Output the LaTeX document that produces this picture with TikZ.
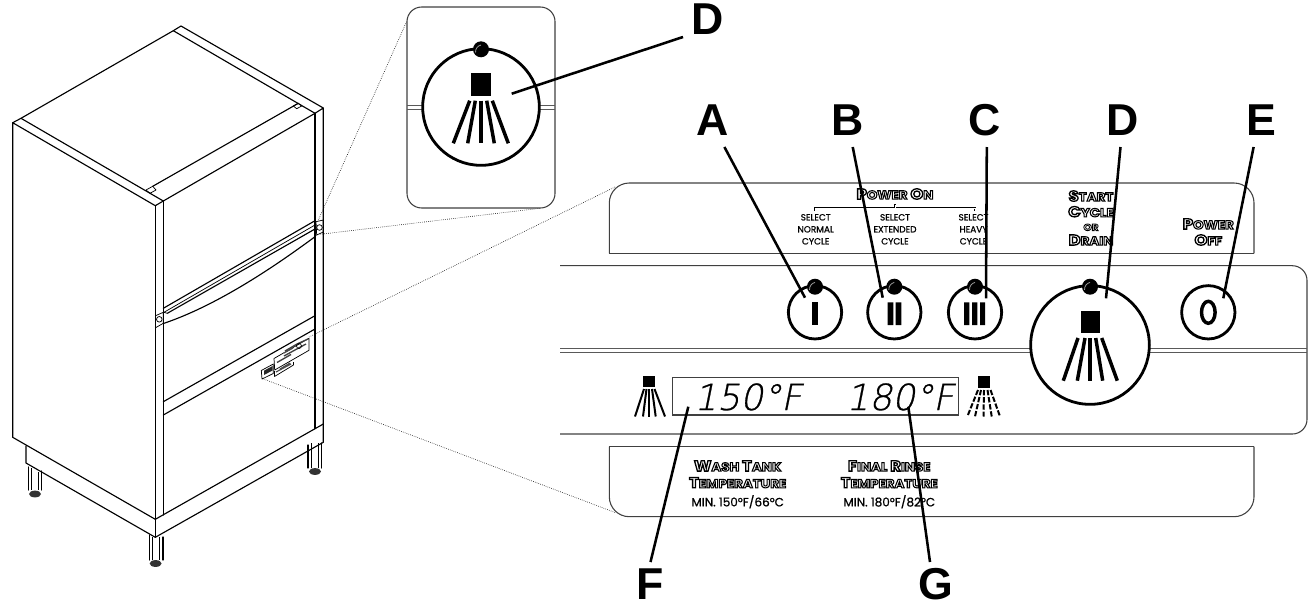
\documentclass[tikz,border=0pt]{standalone}
\usepackage{fontspec}
\setmainfont{Liberation Sans}
\newfontfamily\popp{Poppins}[FakeBold=1]
\newfontfamily\fancyf{Poppins}[BoldFeatures={FakeBold=9,FakeStretch=1.12}]
\newfontfamily\lcdf[FakeSlant=0.2,FakeBold=0.8]{DejaVu Sans ExtraLight}
\newcommand\fancytext[1]{{\fancyf\bfseries\color{white}\special{pdf:code 0 0 0 RG}#1}}
\newcommand\bigc{\fontsize{11}{11}\selectfont}
\newcommand\smallc{\fontsize{9}{9}\selectfont}
\tikzset{
  cab/.style={line width=0.85pt,line join=round,line cap=round},
  thin cab/.style={line width=0.55pt,line join=round},
  panel/.style={draw=black!75,line width=0.8pt},
  dots/.style={line width=0.45pt,densely dotted},
  leader/.style={line width=1.9pt},
  ring/.style={circle,draw=black,line width=2.1pt,fill=white,inner sep=0pt},
  led/.style={circle,fill=black,inner sep=0pt,minimum size=12pt},
  bar/.style={fill=black},
  jet/.style={line width=2.6pt},
  letter/.style={font=\fontsize{33.5}{33.5}\selectfont\bfseries,inner sep=0pt},
  small label/.style={font=\popp\fontsize{6.7}{9}\selectfont,align=center,inner sep=0pt,text depth=0pt},
  min label/.style={font=\popp\fontsize{9}{9}\selectfont,align=center,inner sep=0pt,text depth=0pt},
  fancy label/.style={align=center,inner sep=0pt},
  lcd/.style={font=\lcdf\fontsize{27}{27}\selectfont,inner sep=0pt,anchor=base west},
}
\begin{document}
\begin{tikzpicture}[x=0.75pt,y=-0.75pt]
\useasboundingbox (0,0) rectangle (1308,603);
% cabinet
\draw[cab] (181,26) -- (323.3,108) -- (323.3,424) -- (155.3,519.3) -- (12.7,437.3) -- (12.7,122.7) -- (155.3,205.7) -- (163.3,201) -- (315,113.3) -- (323.3,108);
\draw[cab] (12.7,122.7) -- (21,118.3) -- (173.3,30.7) -- (181,26);
\draw[cab] (21,118.3) -- (163.3,201);
\draw[cab] (173.3,30.7) -- (315,113.3);
\draw[cab] (152.7,186.3) -- (298.3,103.3);
\draw[thin cab] (146,190) -- (152.7,186.3) -- (156,190) -- (150,193.3) -- cycle;
\draw[thin cab] (293.3,106) -- (298.3,103.3) -- (301.7,106) -- (296.7,108.7) -- cycle;
\draw[cab] (155.3,205.7) -- (155.3,519.3);
\draw[cab] (163.3,201) -- (163.3,515);
\draw[cab] (315,113.3) -- (315,428.7);
% base
\draw[cab] (26,446) -- (26,463) -- (155.3,537.3) -- (323.3,442.3) -- (323.3,424);
\draw[cab] (155.3,519.3) -- (155.3,537.3);
% legs
\draw[cab] (28.3,467) -- (28.3,490) (41.7,471) -- (41.7,490);
\draw[thin cab] (31.5,468) -- (31.5,490) (38.5,472) -- (38.5,490);
\draw[cab] (149.3,535) -- (149.3,560) (163,537) -- (163,560);
\draw[thin cab] (152.5,537) -- (152.5,560) (159.5,537) -- (159.5,560);
\draw[cab] (308,445) -- (308,468) (321.7,443) -- (321.7,468);
\draw[thin cab] (311,443) -- (311,468) (318.5,443) -- (318.5,468);
\fill[black!80] (35,494) ellipse (6 and 3.4);
\fill[black!80] (155.6,563.5) ellipse (6 and 3.4);
\fill[black!80] (315,471.5) ellipse (6 and 3.4);
% door lines
\draw[cab] (163.3,401.7) -- (315,315.7);
\draw[cab] (163.3,415) -- (315,329);
% handle
\draw[cab] (163.3,308.3) -- (315,220.7);
\draw[thin cab] (164,312.3) -- (315,225);
\draw[cab] (167.3,313.3) -- (315,229);
\draw[cab] (164,323.3) .. controls (215,306) and (270,270) .. (315,236.7);
\draw[thin cab] (167.3,313.3) -- (164,312.3);
\draw[thin cab] (315,229) -- (316,236);
% hinges
\draw[thin cab] (316,221.7) -- (323.3,220) -- (323.3,232) -- (316.7,235) -- cycle;
\draw[thin cab] (319.5,227.5) circle (2.8);
\draw[thin cab] (155.6,315.7) -- (163.3,312.3) -- (163.3,323.3) -- (155.6,327.7) -- cycle;
\draw[thin cab] (159.3,319.3) circle (2.8);
% tiny panel
\draw[thin cab] (274,358.5) -- (309,338.3) -- (309,350.3) -- (274.7,370) -- cycle;
\draw[thin cab] (261.3,370.5) -- (273.3,364) -- (273.3,373.5) -- (262,379) -- cycle;
\draw[thin cab] (274.5,376.5) -- (293.5,365) -- (293.5,362) (274.5,376.5) -- (274.5,371);
\fill[black!85] (264,370.7) -- (272.5,366) -- (272.5,370.5) -- (264,375) -- cycle;
\draw[line width=1pt,black!75] (277,362.5) -- (291,354.5) (284,356) -- (306,344) (285,351) -- (297,344) (297,344) -- (308,339);
\draw[line width=0.9pt,black!70] (276,372) -- (291,364) (280,369) -- (290,363) (284,353) -- (293,348);
\draw[line width=0.5pt] (299,346) circle (2.5);
% dotted connectors
\coordinate (dA1) at (407.3,20);
\coordinate (dA2) at (318.3,220);
\coordinate (dB1) at (540,208.3);
\coordinate (dB2) at (320,234.3);
\coordinate (dC1) at (615,187);
\coordinate (dC2) at (309,337);
\coordinate (dD1) at (615,512.5);
\coordinate (dD2) at (261.7,378.3);
\draw[dots] (dA1) -- (dA2);
\draw[dots] (dB1) -- (dB2);
\draw[dots] (dC1) -- (dC2);
\draw[dots] (dD1) -- (dD2);
% inset
\draw[panel,fill=white,rounded corners=11pt] (407,7) rectangle (555,208);
\draw[line width=0.9pt,black!65] (407,105.7) -- (555,105.7) (407,109.3) -- (555,109.3);
\node[ring,minimum size=87.5pt] (insetring) at (481,107) {};
\node[led] (insetled) at (481,49.3) {};
\draw[line width=0.6pt,black!40] (475.5,52.5) .. controls (475.5,48.5) and (477.5,46) .. (481,45);
\fill (471,73.3) rectangle (490.7,95.7);
\foreach \t/\b in {469.7/453.3,475.3/467.7,481/481,486.7/494.3,492.3/508.3}
  \draw[jet] (\t,100.7) -- (\b,143.3);
% top label panel
\draw[panel,rounded corners=15pt] (609.3,253.3) -- (609.3,183) -- (1254,183) -- (1254,253.3);
\draw[panel] (609.3,253.3) -- (1254,253.3);
% main panel
\draw[panel,rounded corners=11pt] (560,265.7) -- (1307,265.7) -- (1307,434) -- (560,434);
\draw[line width=1.1pt,black!65] (560,348.5) -- (1307,348.5);
\draw[line width=1.1pt,black!65] (560,352.5) -- (1307,352.5);
% bottom label panel
\draw[panel,rounded corners=15pt] (609.3,446.7) -- (609.3,516.7) -- (1254,516.7) -- (1254,446.7);
\draw[panel] (609.3,446.7) -- (1254,446.7);
% labels top
\node[fancy label] (poweron) at (895,194) {\fancytext{\bigc P\smallc OWER \bigc O\smallc N}};
\draw[line width=1.9pt] (815,211) |- (975,208) -- (975,211);
\draw[line width=1.9pt] (895,208) -- (895,204);
\draw[line width=0.6pt,white] (815,211) |- (975,208) -- (975,211);
\draw[line width=0.6pt,white] (895,208) -- (895,204.5);
\node[small label] (sel1) at (815.7,229.3) {SELECT\\NORMAL\\CYCLE};
\node[small label] (sel2) at (895,229.3) {SELECT\\EXTENDED\\CYCLE};
\node[small label] (sel3) at (973.5,229.3) {SELECT\\HEAVY\\CYCLE};
\node[fancy label] (startl) at (1091,196) {\fancytext{\bigc S\smallc TART}};
\node[fancy label] (cyclel) at (1091,211.7) {\fancytext{\bigc C\smallc YCLE}};
\node[fancy label] (orl) at (1091,227.3) {\fancytext{\fontsize{7}{7}\selectfont OR}};
\node[fancy label] (drainl) at (1091,240) {\fancytext{\bigc D\smallc RAIN}};
\node[fancy label] (powerl) at (1208.3,224) {\fancytext{\bigc P\smallc OWER}};
\node[fancy label] (offl) at (1208.3,240) {\fancytext{\bigc O\smallc FF}};
% buttons
\node[ring,minimum size=40pt] (btnI) at (815,312.3) {};
\node[ring,minimum size=40pt] (btnII) at (894.3,312.3) {};
\node[ring,minimum size=40pt] (btnIII) at (975,312.3) {};
\node[ring,minimum size=40pt] (btnO) at (1208.3,312.3) {};
\node[ring,minimum size=89pt] (btnD) at (1090,345) {};
\foreach \x/\n in {815/a,894.3/b,975/c,1090/d}{
  \node[led] (led\n) at (\x,286.7) {};
  \draw[line width=0.6pt,black!40] (\x-5.5,289.9) .. controls (\x-5.5,285.9) and (\x-3.5,283.4) .. (\x,282.4);
}
\fill[bar] (812.3,302.3) rectangle (818,325);
\fill[bar] (887.7,302.3) rectangle (893.3,325) (895.7,302.3) rectangle (901.3,325);
\fill[bar] (964,302.3) rectangle (969.3,325) (972,302.3) rectangle (977.3,325) (980,302.3) rectangle (985,325);
\draw[line width=2.6pt] (1208.3,312.3) ellipse (6.8 and 11);
% big spray
\fill (1080.7,311) rectangle (1100,333.3);
\foreach \t/\b in {1078/1063.3,1085/1077.3,1090/1090,1095.7/1102.7,1101.7/1117.3}
  \draw[jet] (\t,338) -- (\b,380.7);
% readout
\draw[panel,black!75,fill=white] (672.7,377.3) rectangle (958.3,415);
\node[lcd] (lcd1) at (694,410) {150°F};
\node[lcd] (lcd2) at (846,410) {180°F};
% small sprays
\fill (643.3,376) rectangle (655,386.7);
\foreach \t/\b in {644/635,646.5/643,649/649,652/655.7,654.5/665}
  \draw[line width=1.5pt] (\t,389) -- (\b,416.5);
\fill (978.3,375.7) rectangle (990,388.3);
\foreach \t/\b in {978/967.3,981/975,984/983.5,987.5/991.7,990.5/1000}
  \draw[line width=1.5pt,dash pattern=on 4pt off 1.4pt] (\t,390) -- (\b,416.5);
% bottom labels
\node[fancy label] (wash) at (737.7,466) {\fancytext{\bigc W\smallc ASH \bigc T\smallc ANK}};
\node[fancy label] (temp1) at (737.7,482.7) {\fancytext{\bigc T\smallc EMPERATURE}};
\node[min label] (min1) at (737.7,500.7) {MIN. 150°F/66°C};
\node[fancy label] (final) at (889.3,466) {\fancytext{\bigc F\smallc INAL \bigc R\smallc INSE}};
\node[fancy label] (temp2) at (889.3,482.7) {\fancytext{\bigc T\smallc EMPERATURE}};
\node[min label] (min2) at (889.3,500.7) {MIN. 180°F/82°C};
% letters and leaders
\node[letter] (lA) at (713,120) {A};
\node[letter] (lB) at (848,120) {B};
\node[letter] (lC) at (985,120) {C};
\node[letter] (lD) at (1123,120) {D};
\node[letter] (lE) at (1261,120) {E};
\node[letter] (lDtop) at (708,19) {D};
\node[letter] (lF) at (650,584) {F};
\node[letter] (lG) at (936,584) {G};
\coordinate (tA) at (805,297.7);
\coordinate (tB) at (882.7,297.7);
\coordinate (tC) at (986,298.3);
\coordinate (tD) at (1106,298.3);
\coordinate (tE) at (1223.3,298.3);
\coordinate (tDtop) at (511.7,93.7);
\coordinate (tF) at (688.3,406.7);
\coordinate (tG) at (908.3,406.7);
\coordinate (sA) at (724.4,147);
\coordinate (sB) at (852.7,147);
\coordinate (sC) at (986.8,147);
\coordinate (sD) at (1120.5,147);
\coordinate (sE) at (1253.6,147);
\coordinate (sDtop) at (683,37);
\coordinate (sF) at (650.5,562);
\coordinate (sG) at (930,562);
\foreach \n in {A,B,C,D,E,Dtop,F,G}
  \draw[leader] (s\n) -- (t\n);
\end{tikzpicture}
\end{document}
